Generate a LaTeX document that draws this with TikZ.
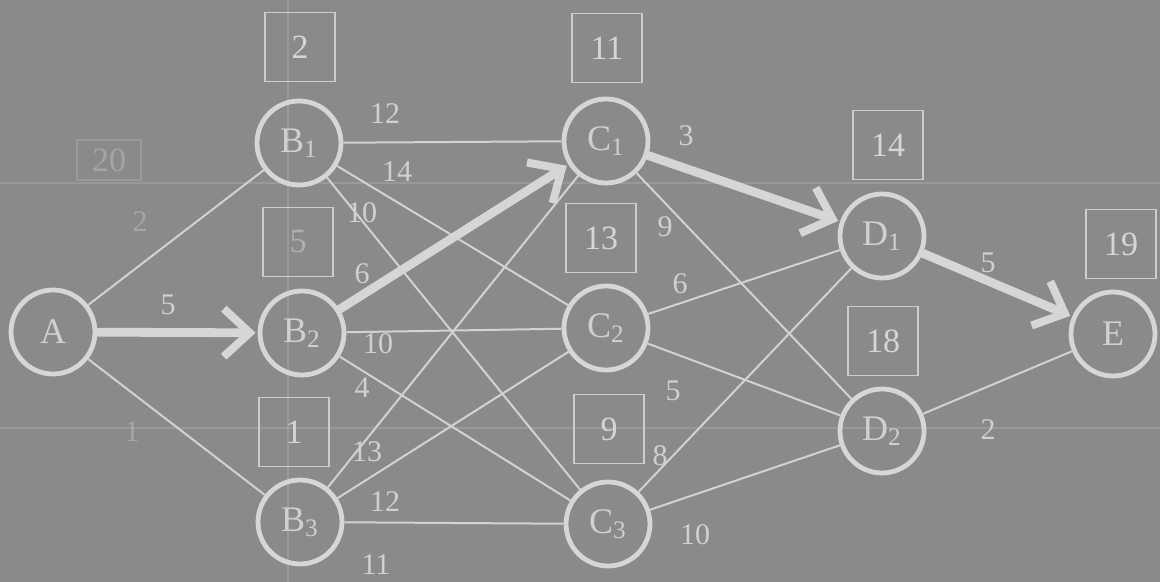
\documentclass[tikz,border=0pt]{standalone}
\usepackage{fontspec}
\setmainfont{Liberation Serif}
\usetikzlibrary{arrows.meta}
\definecolor{board}{RGB}{138,138,138}
\definecolor{chalk}{RGB}{214,214,214}

\begin{document}
\begin{tikzpicture}[x=0.5pt, y=-0.5pt,
  stop/.style={circle, draw=chalk, line width=2.4pt, minimum size=42pt, inner sep=0pt,
    text=chalk!92!board, font=\fontsize{18}{20}\selectfont},
  tbox/.style={draw=chalk!88!board, line width=0.7pt, minimum width=35pt, minimum height=34.5pt,
    inner sep=0pt, text=chalk, font=\fontsize{17}{19}\selectfont},
  edge/.style={draw=chalk!95!board, line width=1pt},
  route/.style={draw=chalk, line width=4.4pt, line cap=round,
    -{Straight Barb[length=13pt, width=24pt, line width=4pt]}, shorten >=1pt},
  wt/.style={text=chalk!92!board, font=\fontsize{15}{17}\selectfont},
  ghost/.style={draw=white, opacity=0.13, line width=1pt}]
  % board
  \fill[board] (0,0) rectangle (1160,582);
  \useasboundingbox (0,0) rectangle (1160,582);
  % faint rulings left on the board
  \draw[ghost] (0,183) -- (1160,183);
  \draw[ghost] (0,428) -- (1160,428);
  \draw[ghost] (288,0) -- (288,582);
  \node[tbox, ghost, minimum width=32pt, minimum height=20pt, text opacity=0.35] (old) at (109,160) {20};
  % stages
  \node[stop] (A)  at (53,332)   {A};
  \node[stop] (B1) at (299,143)  {B\textsubscript{1}};
  \node[stop] (B2) at (302,333)  {B\textsubscript{2}};
  \node[stop] (B3) at (300,522)  {B\textsubscript{3}};
  \node[stop] (C1) at (606,141)  {C\textsubscript{1}};
  \node[stop] (C2) at (606,328)  {C\textsubscript{2}};
  \node[stop] (C3) at (608,524)  {C\textsubscript{3}};
  \node[stop] (D1) at (882,236)  {D\textsubscript{1}};
  \node[stop] (D2) at (882,431)  {D\textsubscript{2}};
  \node[stop] (E)  at (1113,334) {E};
  % shortest distances
  \node[tbox] (tB1) at (300,47)   {2};
  \node[tbox, text opacity=0.5] (tB2) at (298,242) {5};
  \node[tbox] (tB3) at (294,432)  {1};
  \node[tbox] (tC1) at (607,48)   {11};
  \node[tbox] (tC2) at (601,238)  {13};
  \node[tbox] (tC3) at (609,429)  {9};
  \node[tbox] (tD1) at (888,145)  {14};
  \node[tbox] (tD2) at (883,341)  {18};
  \node[tbox] (tE)  at (1121,244) {19};
  % arcs
  \foreach \s/\t in {A/B1,A/B3,B1/C1,B1/C2,B1/C3,B2/C2,B2/C3,B3/C1,B3/C2,B3/C3,
                     C1/D2,C2/D1,C2/D2,C3/D1,C3/D2,D2/E}
    \draw[edge] (\s) -- (\t);
  % optimal route
  \draw[route] (A) -- (B2);
  \draw[route] (B2) -- (C1);
  \draw[route] (C1) -- (D1);
  \draw[route] (D1) -- (E);
  % weights
  \node[wt, text opacity=0.4] (wAB1) at (140,222) {2};
  \node[wt] (wAB2) at (168,305) {5};
  \node[wt, text opacity=0.4] (wAB3) at (132,432) {1};
  \foreach \n/\x/\y/\w in {B1C1/385/114/12, B1C2/397/172/14, B1C3/362/213/10,
                           B2C1/362/274/6, B2C2/378/344/10, B2C3/362/388/4,
                           B3C1/367/452/13, B3C2/385/502/12, B3C3/376/565/11,
                           C1D1/686/136/3, C1D2/665/227/9, C2D1/680/284/6,
                           C2D2/673/391/5, C3D1/660/456/8, C3D2/695/535/10,
                           D1E/988/263/5, D2E/988/430/2}
    \node[wt] (w\n) at (\x,\y) {\w};
\end{tikzpicture}
\end{document}
